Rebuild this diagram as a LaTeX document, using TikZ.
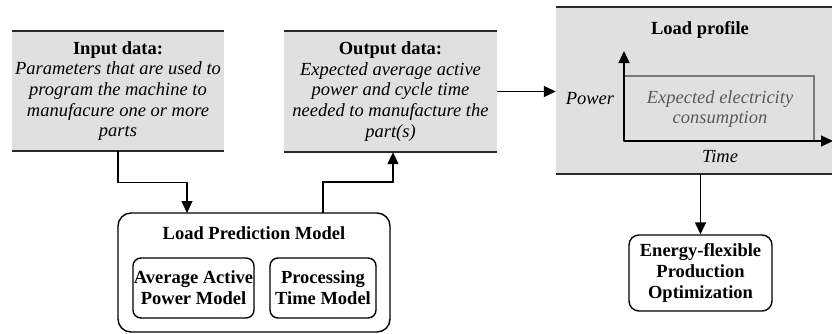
\documentclass[tikz,border=0pt]{standalone}
\usepackage{fontspec}
\setmainfont{Liberation Serif}
\usetikzlibrary{arrows.meta,calc}
\definecolor{panel}{HTML}{E0E0E0}
\definecolor{rule}{HTML}{2A2A2A}
\definecolor{graytext}{HTML}{5A5A5A}
\definecolor{grayline}{HTML}{7A7A7A}
\begin{document}
\begin{tikzpicture}[x=1pt,y=-1pt,
  txt/.style={align=center,font=\fontsize{18.5}{20.7}\selectfont,inner sep=0pt},
  ruleline/.style={rule,line width=1.5pt},
  rbox/.style={draw,line width=1.4pt,rounded corners=#1,inner sep=0pt},
  arr/.style={line width=1.4pt,-{Triangle[length=12pt,width=11pt]}},
]
\useasboundingbox (0,0) rectangle (832,333);

% ---- data panels (grey fill, rules on top and bottom only) ----
\fill[panel] (12,31) rectangle (224,151);
\draw[ruleline] (12,31) -- (224,31) (12,151) -- (224,151);
\node[txt,minimum width=212pt,minimum height=120pt] (in) at (118,91)
  {\textbf{Input data:}\\\textit{Parameters that are used to}\\\textit{program the machine to}\\\textit{manufacure one or more}\\\textit{parts}};

\fill[panel] (284,31) rectangle (497,152);
\draw[ruleline] (284,31) -- (497,31) (284,152) -- (497,152);
\node[txt,minimum width=213pt,minimum height=121pt] (out) at (390.5,91.5)
  {\textbf{Output data:}\\\textit{Expected average active}\\\textit{power and cycle time}\\\textit{needed to manufacture the}\\\textit{part(s)}};

% ---- load profile panel ----
\fill[panel] (556,7) rectangle (833,174);
\draw[ruleline] (556,7) -- (833,7) (556,174) -- (833,174);
\node[inner sep=0pt,minimum width=277pt,minimum height=167pt] (lp) at (694.5,90.5) {};
\node[txt] (lptitle) at (700,30) {\textbf{Load profile}};
\coordinate (orig) at (624,141);
\coordinate (ytip) at (624,51);
\coordinate (xtip) at (833,141);
\draw[grayline,line width=1.2pt] (624,76) rectangle (814,141);
\draw[arr] (orig) -- (ytip);
\draw[arr] (orig) -- (xtip);
\node[txt] (pw) at (590,99) {\textit{Power}};
\node[txt] (tm) at (720,156) {\textit{Time}};
\node[txt,text=graytext] (ec) at (720,109) {\textit{Expected electricity}\\\textit{consumption}};

% ---- load prediction model ----
\node[rbox=13pt,minimum width=272pt,minimum height=119pt] (lpm) at (254,272.5) {};
\node[txt] (lpmt) at (254,233) {\textbf{Load Prediction Model}};
\node[rbox=8pt,txt,minimum width=121pt,minimum height=60pt] (apm) at (193.5,288)
  {\textbf{Average Active}\\\textbf{Power Model}};
\node[rbox=8pt,txt,minimum width=106pt,minimum height=60pt] (ptm) at (323,288)
  {\textbf{Processing}\\\textbf{Time Model}};

% ---- optimization ----
\node[rbox=10pt,txt,minimum width=143pt,minimum height=76pt] (opt) at (700.5,273)
  {\textbf{Energy-flexible}\\\textbf{Production}\\\textbf{Optimization}};

% ---- connectors ----
\coordinate (inlpm) at (187,213);
\coordinate (lpmout) at (323,213);
\draw[arr] (in.south) -- ++(0,31) -| (inlpm);
\draw[arr] (lpmout) -- ++(0,-31) -| ([xshift=2.5pt]out.south);
\draw[arr] (out.east) -- (out.east -| lp.west);
\draw[arr] (lp.south -| opt.north) -- (opt.north);
\end{tikzpicture}
\end{document}
